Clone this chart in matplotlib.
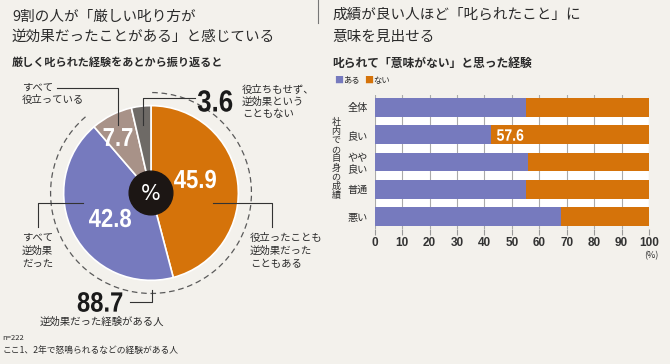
import numpy as np
import matplotlib
matplotlib.use("Agg")
import matplotlib.pyplot as plt
from matplotlib.patches import Arc, Circle, PathPatch
from matplotlib.textpath import TextPath
from matplotlib.font_manager import FontProperties
from matplotlib.transforms import Affine2D

plt.rcParams['font.family'] = ['Noto Sans CJK JP', 'DejaVu Sans']

# ---- data ----
# left: pie (percent)
pie_labels = ['役立ったことも逆効果だったこともある', 'すべて逆効果だった', 'すべて役立っている', '役立ちもせず、逆効果ということもない']
pie_values = [45.9, 42.8, 7.7, 3.6]
total_counterproductive = 88.7

# right: stacked bars (percent)
categories = ['全体', '良い', 'やや\n良い', '普通', '悪い']
aru = [55.0, 42.4, 56.0, 55.0, 68.0]
nai = [45.0, 57.6, 44.0, 45.0, 32.0]
xticks = [0, 10, 20, 30, 40, 50, 60, 70, 80, 90, 100]

# ---- style ----
BG = '#F3F1EC'
ORANGE = '#D5730A'
BLUE = '#767ABE'
TAN = '#A89288'
GRAY = '#6E6A66'
TXT = '#2b2b2b'
NUMFP = FontProperties(family='Liberation Sans', weight='bold')
W, H = 670, 364

fig = plt.figure(figsize=(W / 100, H / 100), dpi=100, facecolor=BG)


def rect(x0, y0, x1, y1):
    # pixel box (top-left origin) -> figure fraction
    return [x0 / W, 1 - y1 / H, (x1 - x0) / W, (y1 - y0) / H]


def num_text(ax, x, y, s, em, color, sx=0.85, ha='center'):
    # condensed bold numerals, drawn in pixel coords of the overlay axes
    tp = TextPath((0, 0), s, size=em, prop=NUMFP)
    bb = tp.get_extents()
    ox = bb.x0 + bb.width / 2 if ha == 'center' else bb.x0
    tr = Affine2D().translate(-ox, -(bb.y0 + bb.height / 2)).scale(sx, -1).translate(x, y)
    ax.add_patch(PathPatch(tr.transform_path(tp), facecolor=color, lw=0, zorder=10))


# overlay axes in pixel coordinates for texts and leader lines
ov = fig.add_axes([0, 0, 1, 1], zorder=5)
ov.set_xlim(0, W)
ov.set_ylim(H, 0)
ov.axis('off')
ov.patch.set_alpha(0)

# ---- pie ----
cx, cy, r = 151, 193, 84
half = 1.3 * r
pax = fig.add_axes(rect(cx - half, cy - half, cx + half, cy + half))
pax.set_xlim(-1.3, 1.3)
pax.set_ylim(-1.3, 1.3)
pax.set_aspect('equal')
pax.axis('off')
wedges, _ = pax.pie(pie_values, colors=[ORANGE, BLUE, TAN, GRAY], startangle=90,
                    counterclock=False, radius=1,
                    wedgeprops=dict(edgecolor='white', linewidth=1.2))

# dashed arc over "counterproductive" share (orange + blue)
span = 360 * total_counterproductive / 100
pax.add_patch(Arc((0, 0), 2.3, 2.3, theta1=90 - span, theta2=90,
                  color='#5a5a5a', lw=0.9, ls=(0, (4.5, 3))))
pax.add_patch(Circle((0, 0), 0.25, color='#1c1614', zorder=5))
pax.text(0, -0.01, '%', color='white', ha='center', va='center', fontsize=15,
         family=['DejaVu Sans'], zorder=6)

label_xy = [(195, 179), (110, 218), (118, 137)]
for (lx, ly), v in zip(label_xy, pie_values[:3]):
    num_text(ov, lx, ly, f'{v:.1f}', 26, 'white')

# left texts
ov.text(12, 17, '9割の人が「厳しい叱り方が', fontsize=10.5, color=TXT, va='center')
ov.text(12, 37, '逆効果だったことがある」と感じている', fontsize=10.5, color=TXT, va='center')
ov.text(12, 62, '厳しく叱られた経験をあとから振り返ると', fontsize=8, fontweight='bold',
        color=TXT, va='center')

small = dict(fontsize=7.5, color=TXT, va='center')
ov.text(22, 88, 'すべて', **small)
ov.text(22, 100, '役立っている', **small)
ov.plot([57, 118, 118], [88, 88, 125], color='#333', lw=0.8)

num_text(ov, 215, 101, f'{pie_values[3]:.1f}', 30.5, '#1a1a1a')
ov.plot([195, 143, 143], [98, 98, 125], color='#333', lw=0.8)
for k, s in enumerate(['役立ちもせず、', '逆効果という', 'こともない']):
    ov.text(242, 90 + 12 * k, s, **small)

ov.plot([38, 38, 83], [227, 203, 203], color='#333', lw=0.8)
for k, s in enumerate(['すべて', '逆効果', 'だった']):
    ov.text(22, 238 + 13 * k, s, **small)

ov.plot([213, 272, 272], [203, 203, 227], color='#333', lw=0.8)
for k, s in enumerate(['役立ったことも', '逆効果だった', 'こともある']):
    ov.text(250, 238 + 13 * k, s, **small)

num_text(ov, 100, 302, f'{total_counterproductive:.1f}', 28, '#1a1a1a')
ov.plot([130, 152, 152], [302, 302, 290], color='#333', lw=0.8)
ov.text(102, 322, '逆効果だった経験がある人', fontsize=7.5, color=TXT, ha='center', va='center')
ov.text(2, 338, 'n=222', fontsize=5.5, color=TXT, va='center')
ov.text(2, 350, 'ここ1、2年で怒鳴られるなどの経験がある人', fontsize=6.3, color=TXT, va='center')

# divider
ov.plot([318, 318], [0, 23], color='#777', lw=0.8)

# ---- bars ----
x0, x1 = 374.7, 649
ytop, ybot = 95.2, 228.8
bax = fig.add_axes(rect(x0, ytop, x1, ybot))
bax.set_facecolor('none')
y = np.arange(len(categories))
bax.axhspan(y[0], y[-1], color='white', zorder=0)
bax.barh(y, aru, height=0.69, color=BLUE, zorder=2)
bax.barh(y, nai, left=aru, height=0.69, color=ORANGE, zorder=2)
bax.set_xlim(0, 100)
bax.set_ylim(len(categories) - 0.55, -0.45)
bax.set_xticks(xticks)
bax.set_xticklabels([str(t) for t in xticks], fontsize=8.5, fontweight='bold',
                    family=['Liberation Sans'], color='#333')
bax.set_yticks(y)
bax.set_yticklabels(categories, fontsize=7.3, color=TXT, linespacing=1.1)
bax.tick_params(axis='x', length=4, color='#999', pad=2)
bax.tick_params(axis='y', length=0, pad=5)
bax.grid(axis='x', color='#aaaaaa', lw=0.8, zorder=1)
bax.set_axisbelow(True)
for s in bax.spines.values():
    s.set_visible(False)

# "57.6" label inside the orange part of 良い (x from the bar scale)
lab_x = x0 + (x1 - x0) * aru[1] / 100 + 6
num_text(ov, lab_x, 135, f'{nai[1]:.1f}', 16.5, 'white', ha='left')

# right texts
ov.text(332, 15, '成績が良い人ほど「叱られたこと」に', fontsize=10.5, color=TXT, va='center')
ov.text(332, 37, '意味を見出せる', fontsize=10.5, color=TXT, va='center')
ov.text(332, 63, '叱られて「意味がない」と思った経験', fontsize=8.5, fontweight='bold',
        color=TXT, va='center')
ov.text(334, 80, '■', color=BLUE, fontsize=6.5, va='center')
ov.text(343, 80, 'ある', color=TXT, fontsize=6, va='center')
ov.text(364, 80, '■', color=ORANGE, fontsize=6.5, va='center')
ov.text(373, 80, 'ない', color=TXT, fontsize=6, va='center')
ov.text(336, 159, '\n'.join('社内での自身の成績'), fontsize=6.5, color=TXT,
        ha='center', va='center', linespacing=1.0)
ov.text(651, 256, '(%)', fontsize=6.5, color=TXT, ha='center', va='center')

fig.savefig('out.png', dpi=100, facecolor=BG)
